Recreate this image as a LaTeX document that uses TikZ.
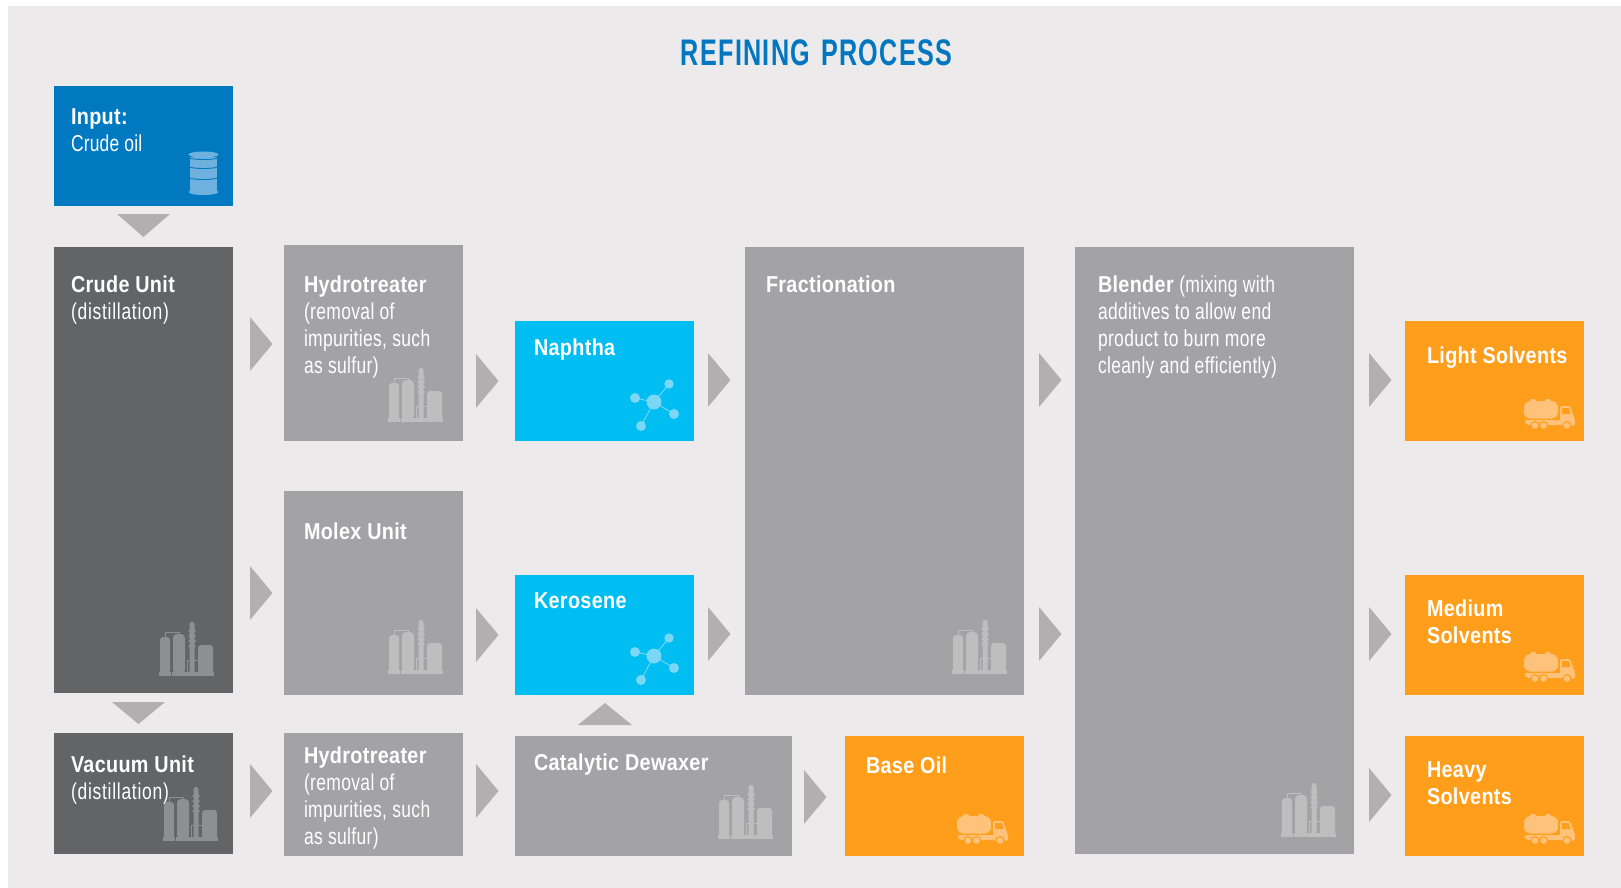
\documentclass[tikz,border=0pt]{standalone}
\usepackage{fontspec}
\setmainfont[FakeStretch=0.76,LetterSpace=1.5,BoldFeatures={FakeStretch=0.86}]{Liberation Sans}
\newfontfamily\titlefont[FakeStretch=0.68,LetterSpace=3.5]{Liberation Sans}
\definecolor{bgc}{HTML}{ECEAEB}
\definecolor{darkc}{HTML}{636466}
\definecolor{grayc}{HTML}{A3A3A5}
\definecolor{bluec}{HTML}{0079C1}
\definecolor{cyanc}{HTML}{00BDF2}
\definecolor{orangec}{HTML}{FF9E1B}
\definecolor{arrowc}{HTML}{B1AFB0}
\definecolor{refl}{HTML}{BEBEBF}
\definecolor{refd}{HTML}{8E8F90}
\definecolor{barc}{HTML}{6FB1DE}
\definecolor{molc}{HTML}{7AD7F6}
\definecolor{truckc}{HTML}{FFC27A}
\definecolor{titlec}{HTML}{0077C0}
\tikzset{
  txt/.style={anchor=north west,inner sep=0pt,outer sep=0pt,align=left,text=white,font=\fontsize{23}{26.8}\selectfont},
  arrowfill/.style={fill=arrowc},
}
% box: name, x1, y1, x2, y2, colour
\newcommand\bx[6]{\fill[#6] (#2,#3) rectangle (#4,#5);
  \coordinate (#1) at (#2,#3);}
\newcommand\arR[2]{\fill[arrowfill] (#1,#2-27) -- (#1+22.5,#2) -- (#1,#2+27) -- cycle;}
\newcommand\arD[3]{\fill[arrowfill] (#1,#2) -- (#1+53,#2) -- (#1+26.5,#3) -- cycle;}
\newcommand\refinery[3]{\begin{scope}[shift={(#1,#2)}]
  \draw[#3,line width=.9pt] (6,-38) -- (6,-44) -- (20,-44) -- (20,-41);
  \fill[#3] (0,0) rectangle (12,-4);
  \fill[#3,rounded corners=3pt] (1,-2) -- (1,-39) -- (11,-39) -- (11,-2) -- cycle;
  \fill[#3] (13,0) rectangle (55,-4);
  \fill[#3,rounded corners=4pt] (14,-2) -- (14,-42) -- (26,-42) -- (26,-2) -- cycle;
  \fill[#3] (30.5,-2) -- (30.5,-52) -- (32,-54) -- (34,-54) -- (35.5,-52) -- (35.5,-2) -- cycle;
  \fill[#3] (29.5,-46) rectangle (36.5,-44) (29.5,-41) rectangle (36.5,-39) (29.5,-36) rectangle (36.5,-34) (29.5,-31) rectangle (36.5,-29);
  \fill[#3,rounded corners=3pt] (39,-2) -- (39,-31) -- (54,-31) -- (54,-2) -- cycle;
  \draw[#3,line width=.7pt] (28,-4) -- (28,-16) -- (39,-16);
\end{scope}}
\newcommand\molecule[2]{\begin{scope}[shift={(#1,#2)}]
  \draw[molc,line width=.9pt] (0,0) -- (15,-18) (0,0) -- (-19,-4) (0,0) -- (20,12) (0,0) -- (-13,24);
  \fill[molc] (0,0) circle[radius=7.5] (15,-18) circle[radius=4.7] (-19,-4) circle[radius=5] (20,12) circle[radius=5] (-13,24) circle[radius=5];
\end{scope}}
\newcommand\truck[2]{\begin{scope}[shift={(#1,#2)}]
  \fill[truckc,rounded corners=1.5pt] (7,-30) rectangle (13,-26) (22,-30) rectangle (28,-26);
  \fill[truckc,rounded corners=5pt] (2,-10.5) -- (0.5,-19) -- (2,-28) -- (34,-28) -- (35.5,-19) -- (34,-10.5) -- cycle;
  \fill[truckc,rounded corners=1pt] (2,-9) -- (2,-6) -- (5,-4) -- (37,-4) -- (37,-9) -- cycle;
  \fill[truckc,rounded corners=1.5pt] (37,-4) -- (37,-23) -- (47,-23) -- (52,-9) -- (52,-3.5) -- (37,-3.5) -- cycle;
  \fill[orangec] (39,-21) -- (46,-21) -- (47.5,-15) -- (39,-15) -- cycle;
  \fill[orangec] (12,-3.5) circle[radius=4.6] (20.5,-3.5) circle[radius=4.6] (44,-3.5) circle[radius=4.6];
  \fill[truckc] (12,-3.5) circle[radius=3.3] (20.5,-3.5) circle[radius=3.3] (44,-3.5) circle[radius=3.3];
\end{scope}}
\newcommand\wider[1]{{\addfontfeature{LetterSpace=3.2}#1}}
\begin{document}
\begin{tikzpicture}[x=1pt,y=-1pt]
\useasboundingbox (0,0) rectangle (1621,888);
\fill[white] (0,0) rectangle (1621,888);
\fill[bgc] (8,6) rectangle (1621,888);
\node[anchor=base,inner sep=0pt,text=titlec,font=\titlefont\fontsize{37}{40}\selectfont\bfseries] (title) at (816.5,66) {REFINING\hspace{3pt} PROCESS};
% boxes
\bx{input}{54}{86}{233}{206}{bluec}
\bx{crude}{54}{247}{233}{693}{darkc}
\bx{vacuum}{54}{733}{233}{854}{darkc}
\bx{hydroA}{284}{245}{463}{441}{grayc}
\bx{molex}{284}{491}{463}{695}{grayc}
\bx{hydroB}{284}{733}{463}{856}{grayc}
\bx{naphtha}{515}{321}{694}{441}{cyanc}
\bx{kerosene}{515}{575}{694}{695}{cyanc}
\bx{dewaxer}{515}{736}{792}{856}{grayc}
\bx{fraction}{745}{247}{1024}{695}{grayc}
\bx{baseoil}{845}{736}{1024}{856}{orangec}
\bx{blender}{1075}{247}{1354}{854}{grayc}
\bx{light}{1405}{321}{1584}{441}{orangec}
\bx{medium}{1405}{575}{1584}{695}{orangec}
\bx{heavy}{1405}{736}{1584}{856}{orangec}
% arrows
\arD{117}{214}{237}
\arD{112}{702}{724}
\fill[arrowfill] (605,703) -- (632,725) -- (578,725) -- cycle;
\arR{250}{344}\arR{250}{593}\arR{250}{791}
\arR{476}{381}\arR{476}{635}\arR{476}{791}
\arR{708}{380}\arR{708}{634}
\arR{804}{797}
\arR{1039}{380}\arR{1039}{634}
\arR{1369}{380}\arR{1369}{634}\arR{1369}{795}
% icons
\refinery{159}{676}{refd}
\refinery{163}{841}{refd}
\refinery{388}{422}{refl}
\refinery{388}{674}{refl}
\refinery{718}{839}{refl}
\refinery{952}{674}{refl}
\refinery{1281}{837}{refl}
\molecule{654}{402}
\molecule{654}{656}
\truck{1523}{429}
\truck{1523}{682}
\truck{1523}{844}
\truck{956}{844}
% barrel
\fill[barc] (190,157) rectangle (217,192);
\fill[barc] (203.5,154.5) ellipse[x radius=15,y radius=3];
\fill[barc] (203.5,192) ellipse[x radius=15,y radius=3];
\draw[bluec,line width=.9pt] (189,158) .. controls (195,160) and (212,160) .. (218,158)
  (189,167) .. controls (195,169) and (212,169) .. (218,167)
  (189,178) .. controls (195,180) and (212,180) .. (218,178);
% labels
\node[txt] (tinput) at (71,108.5) {\textbf{Input:}\\{\addfontfeature{LetterSpace=0.8}Crude oil}};
\node[txt] (tcrude) at (71,276) {\textbf{Crude Unit}\\\wider{(distillation)}};
\node[txt] (tvacuum) at (71,756) {\textbf{Vacuum Unit}\\\wider{(distillation)}};
\node[txt] (thydroA) at (304,276) {\textbf{Hydrotreater}\\(removal of\\impurities, such\\as sulfur)};
\node[txt] (tmolex) at (304,523) {\textbf{Molex Unit}};
\node[txt] (thydroB) at (304,747) {\textbf{Hydrotreater}\\(removal of\\impurities, such\\as sulfur)};
\node[txt] (tnaphtha) at (534,339) {\textbf{Naphtha}};
\node[txt] (tkerosene) at (534,593) {\textbf{Kerosene}};
\node[txt] (tdewaxer) at (534,754) {\textbf{Catalytic Dewaxer}};
\node[txt] (tfraction) at (766,276) {\textbf{Fractionation}};
\node[txt] (tbaseoil) at (866,757) {\textbf{Base Oil}};
\node[txt] (tblender) at (1098,276) {\textbf{Blender} (mixing with\\additives to allow end\\product to burn more\\cleanly and efficiently)};
\node[txt] (tlight) at (1427,347) {\textbf{Light Solvents}};
\node[txt] (tmedium) at (1427,600) {\textbf{Medium}\\\textbf{Solvents}};
\node[txt] (theavy) at (1427,762) {\textbf{Heavy}\\\textbf{Solvents}};
\end{tikzpicture}
\end{document}
